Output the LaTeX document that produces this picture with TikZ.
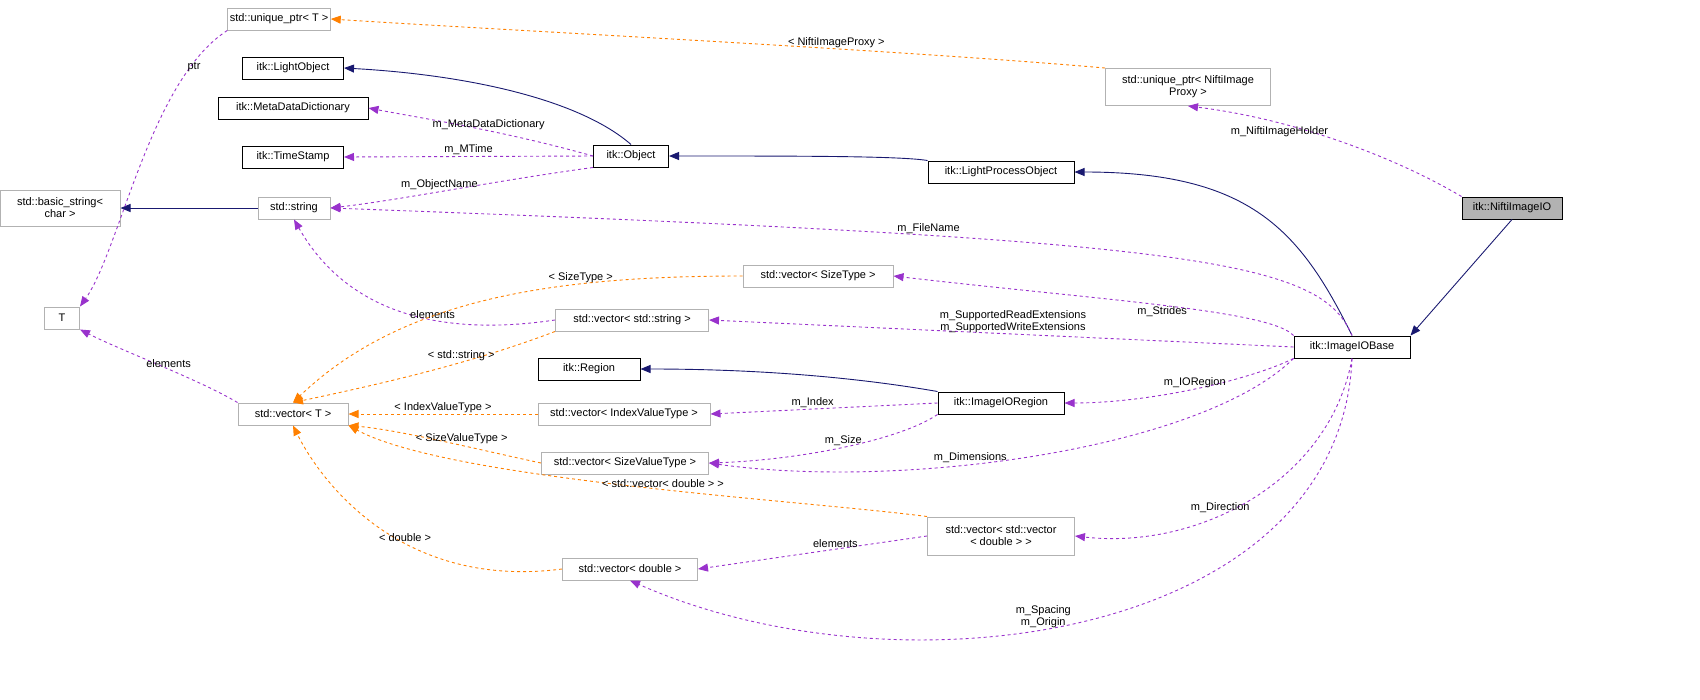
\documentclass[tikz,border=0pt]{standalone}
\usepackage{fontspec}
\setmainfont{Liberation Sans}
\usetikzlibrary{arrows.meta}
\newcommand{\lt}{\textless}
\newcommand{\gt}{\textgreater}
\tikzset{
  cls/.style={draw=black,line width=1pt,fill=white,inner sep=2pt,minimum height=22pt,font=\fontsize{11}{12}\selectfont,align=center},
  tpl/.style={cls,draw=black!30},
  cur/.style={cls,fill=black!30},
  inh/.style={draw={rgb,255:red,25;green,25;blue,112},line width=0.9pt,-{Triangle[length=10pt,width=8pt]}},
  use/.style={draw={rgb,255:red,153;green,50;blue,204},line width=0.9pt,dashed,-{Triangle[length=10pt,width=8pt]}},
  ins/.style={draw=orange,line width=0.9pt,dashed,-{Triangle[length=10pt,width=8pt]}},
  lbl/.style={font=\fontsize{11}{12}\selectfont,align=center,inner sep=1pt}
}
\begin{document}
\begin{tikzpicture}[x=1pt,y=-1pt]
  \useasboundingbox (0,0) rectangle (1700,699);
  % classes
  \node[tpl,minimum width=102pt] (uptrT) at (279,19) {std::unique\_ptr\lt{} T \gt};
  \node[cls,minimum width=101pt] (lobj) at (293,68) {itk::LightObject};
  \node[cls,minimum width=150pt] (mdd) at (293,108) {itk::MetaDataDictionary};
  \node[cls,minimum width=101pt] (ts) at (293,157) {itk::TimeStamp};
  \node[tpl,minimum width=120pt,minimum height=36pt] (bstr) at (60,208) {std::basic\_string\lt\\char \gt};
  \node[tpl,minimum width=72pt] (str) at (294,208) {std::string};
  \node[tpl,minimum width=35pt] (T) at (62,318) {T};
  \node[tpl,minimum width=110pt] (vecT) at (293,414) {std::vector\lt{} T \gt};
  \node[cls,minimum width=75pt] (obj) at (631,156) {itk::Object};
  \node[cls,minimum width=146pt] (lpo) at (1001,172) {itk::LightProcessObject};
  \node[tpl,minimum width=165pt,minimum height=37pt] (uptrN) at (1188,87) {std::unique\_ptr\lt{} NiftiImage\\Proxy \gt};
  \node[cur,minimum width=100pt] (nio) at (1512,208) {itk::NiftiImageIO};
  \node[tpl,minimum width=150pt] (vst) at (818,276) {std::vector\lt{} SizeType \gt};
  \node[tpl,minimum width=153pt] (vstr) at (632,320) {std::vector\lt{} std::string \gt};
  \node[cls,minimum width=102pt] (reg) at (589,369) {itk::Region};
  \node[cls,minimum width=126pt] (ior) at (1001,403) {itk::ImageIORegion};
  \node[cls,minimum width=116pt] (iob) at (1352,347) {itk::ImageIOBase};
  \node[tpl,minimum width=172pt] (viv) at (624,414) {std::vector\lt{} IndexValueType \gt};
  \node[tpl,minimum width=167pt] (vsv) at (625,463) {std::vector\lt{} SizeValueType \gt};
  \node[tpl,minimum width=147pt,minimum height=38pt] (vvd) at (1001,536) {std::vector\lt{} std::vector\\\lt{} double \gt{} \gt};
  \node[tpl,minimum width=135pt] (vd) at (630,569) {std::vector\lt{} double \gt};
  % inheritance
  \draw[inh] (obj.north) .. controls (580,100) and (470,75) .. (lobj.east);
  \draw[inh] (lpo.north west) .. controls (900,156) and (800,156) .. (obj.east);
  \draw[inh] (str.west) -- (bstr.east);
  \draw[inh] (iob.north) .. controls (1300,230) and (1250,172) .. (lpo.east);
  \draw[inh] (nio.south) -- (iob.north east);
  \draw[inh] (ior.north west) .. controls (900,385) and (800,369) .. (reg.east);
  % members
  \draw[use] (obj.west) .. controls (500,130) and (420,118) .. node[lbl,above,pos=0.4]{m\_MetaDataDictionary} (mdd.east);
  \draw[use] (obj.west) -- node[lbl,above]{m\_MTime} (ts.east);
  \draw[use] (obj.south west) .. controls (500,180) and (400,200) .. node[lbl,above,pos=0.55]{m\_ObjectName} (str.east);
  \draw[use] (uptrT.south west) .. controls (150,80) and (120,250) .. node[lbl,above right,pos=0.2]{ptr} (T.north east);
  \draw[use] (nio.north west) .. controls (1400,160) and (1300,120) .. node[lbl,above left,pos=0.55]{m\_NiftiImageHolder} (uptrN.south);
  \draw[use] (iob.north) .. controls (1320,260) and (1200,240) .. node[lbl,above,pos=0.7]{m\_FileName} (str.east);
  \draw[use] (iob.north west) .. controls (1270,310) and (1100,300) .. node[lbl,below,pos=0.5]{m\_Strides} (vst.east);
  \draw[use] (iob.west) -- node[lbl,above,pos=0.48]{m\_SupportedReadExtensions\\m\_SupportedWriteExtensions} (vstr.east);
  \draw[use] (vstr.west) .. controls (420,340) and (340,300) .. node[lbl,above,pos=0.35]{elements} (str.south);
  \draw[use] (vecT.north west) .. controls (200,380) and (120,350) .. node[lbl,above,pos=0.45]{elements} (T.south east);
  \draw[use] (iob.south west) .. controls (1250,380) and (1150,403) .. node[lbl,above,pos=0.5]{m\_IORegion} (ior.east);
  \draw[use] (ior.west) -- node[lbl,above,pos=0.55]{m\_Index} (viv.east);
  \draw[use] (ior.south west) .. controls (900,440) and (800,460) .. node[lbl,above,pos=0.5]{m\_Size} (vsv.east);
  \draw[use] (iob.south west) .. controls (1200,450) and (900,490) .. node[lbl,above,pos=0.6]{m\_Dimensions} (vsv.east);
  \draw[use] (iob.south) .. controls (1330,480) and (1200,550) .. node[lbl,above,pos=0.6]{m\_Direction} (vvd.east);
  \draw[use] (vvd.west) -- node[lbl,above,pos=0.4]{elements} (vd.east);
  \draw[use] (iob.south) .. controls (1340,640) and (900,700) .. node[lbl,above,pos=0.55]{m\_Spacing\\m\_Origin} (vd.south);
  % template instances
  \draw[ins] (uptrN.north west) .. controls (900,50) and (500,30) .. node[lbl,above,pos=0.35]{\lt{} NiftiImageProxy \gt} (uptrT.east);
  \draw[ins] (vst.west) .. controls (550,276) and (400,300) .. node[lbl,above,pos=0.3]{\lt{} SizeType \gt} (vecT.north);
  \draw[ins] (vstr.south west) .. controls (480,360) and (400,380) .. node[lbl,above,pos=0.4]{\lt{} std::string \gt} (vecT.north);
  \draw[ins] (viv.west) -- node[lbl,above,pos=0.5]{\lt{} IndexValueType \gt} (vecT.east);
  \draw[ins] (vsv.west) .. controls (480,450) and (400,430) .. node[lbl,above,pos=0.4]{\lt{} SizeValueType \gt} (vecT.south east);
  \draw[ins] (vvd.north west) .. controls (800,500) and (450,480) .. node[lbl,above,pos=0.45]{\lt{} std::vector\lt{} double \gt{} \gt} (vecT.south east);
  \draw[ins] (vd.west) .. controls (400,590) and (320,480) .. node[lbl,above,pos=0.4]{\lt{} double \gt} (vecT.south);
\end{tikzpicture}
\end{document}
